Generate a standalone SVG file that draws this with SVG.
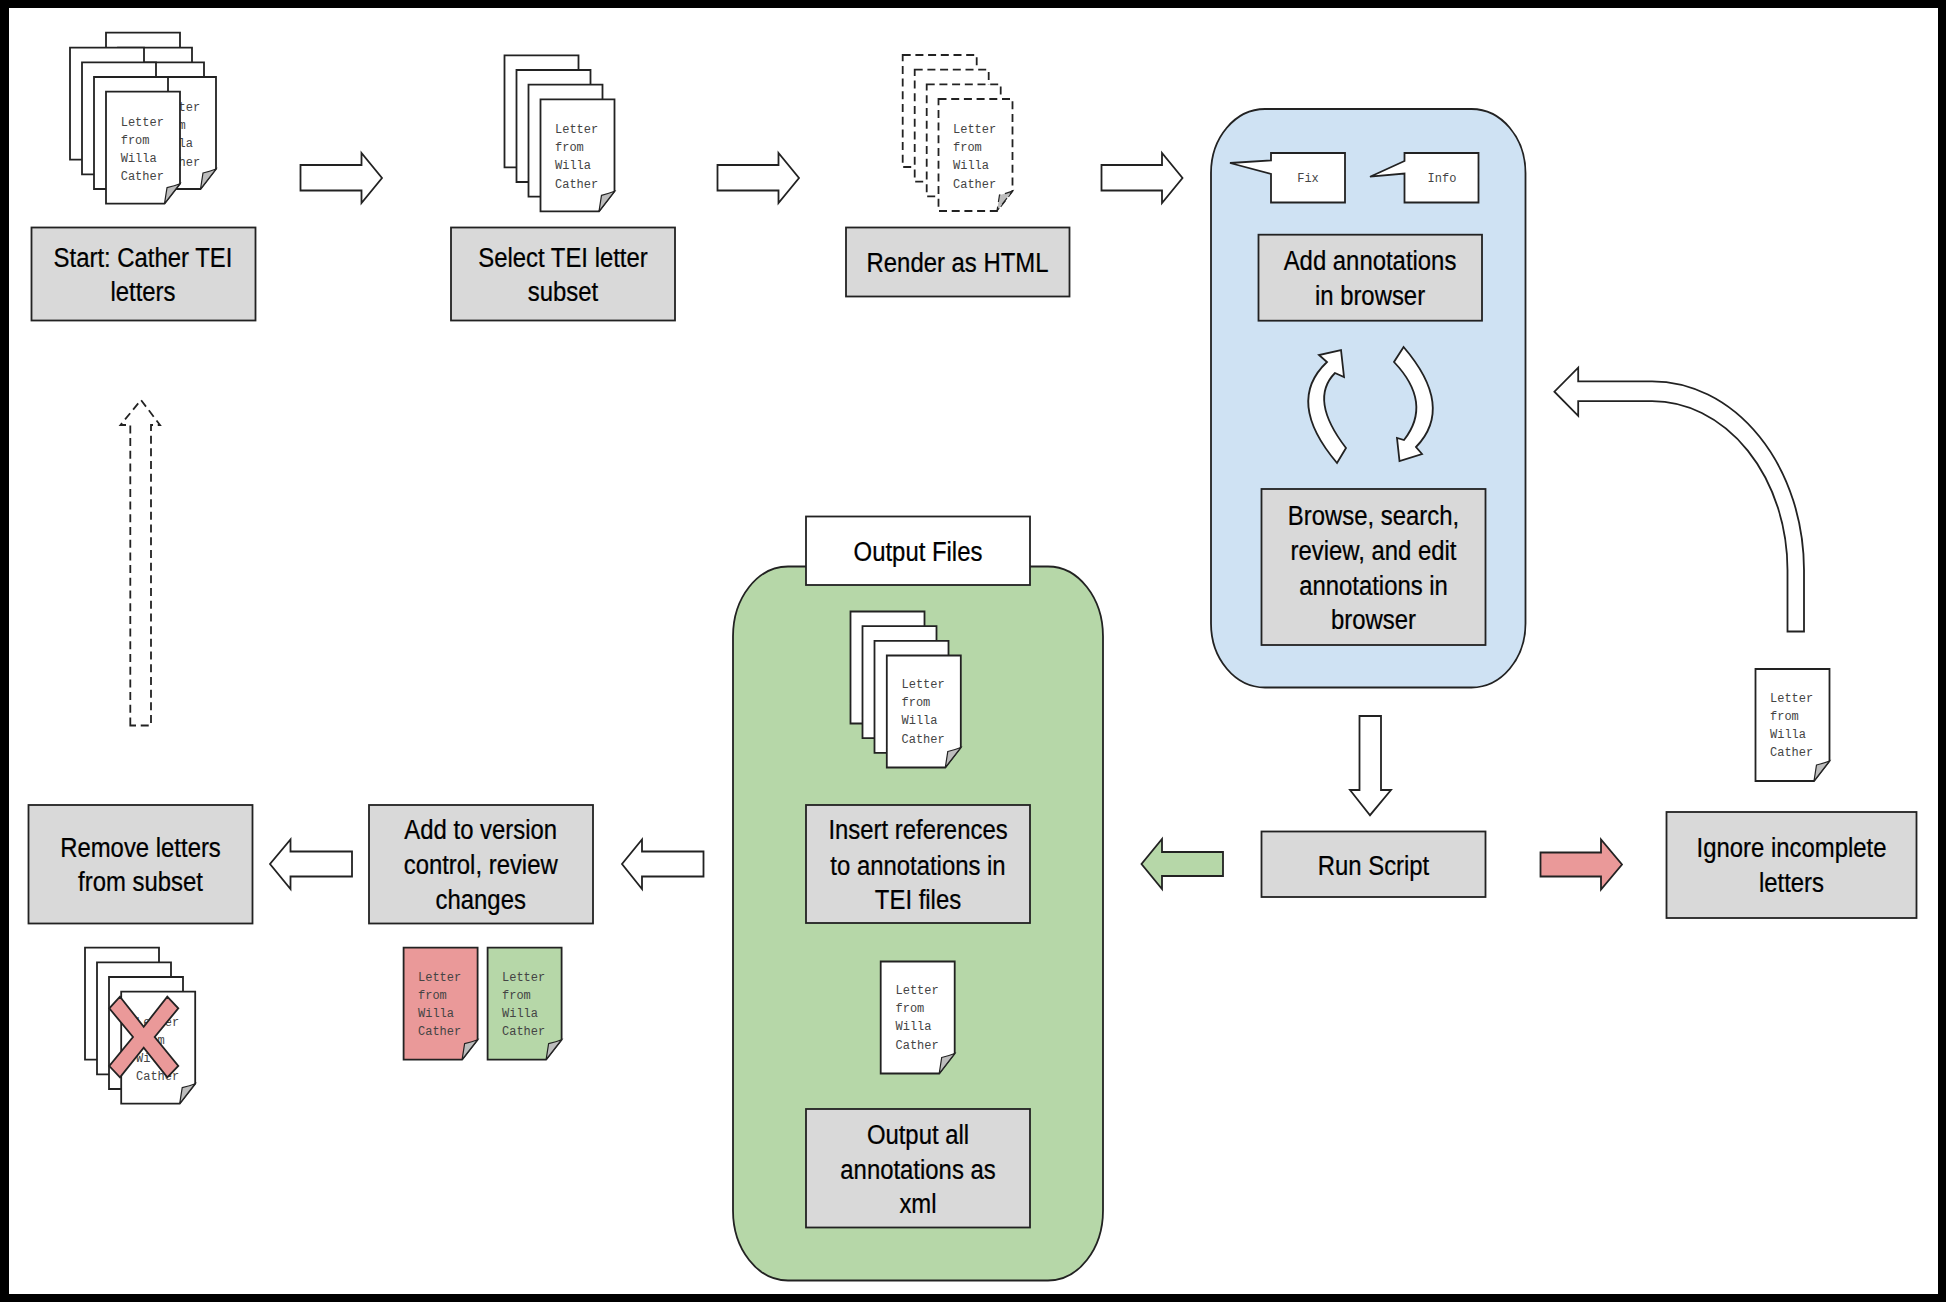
<svg xmlns="http://www.w3.org/2000/svg" width="1946" height="1302" viewBox="0 0 1946 1302">
<style>
.box{fill:#d9d9d9;stroke:#222;stroke-width:1.8}
.wht{fill:#fff;stroke:#222;stroke-width:1.8}
.dash{stroke-dasharray:8 4.7}
.ln{stroke:#222;stroke-width:1.8;stroke-linejoin:miter}
.t{font-family:"Liberation Sans",Arial,sans-serif;font-size:27px;fill:#000;stroke:#000;stroke-width:.25px;text-anchor:middle}
.m{font-family:"Liberation Mono","Courier New",monospace;font-size:12px;fill:#444}
.fold{fill:#bdbdbd;stroke:#222;stroke-width:1.2}
</style>
<defs>
<path id="pg" d="M0 0H74V92L58.5 112H0Z"/>
<path id="fold" d="M74 92C69 94 65 95 61 96L58.5 112Z"/>
</defs>
<rect width="1946" height="1302" fill="#fff"/>
<path id="frame" fill="#000" fill-rule="evenodd" d="M0 0H1946V1302H0ZM9 8V1294H1938V8Z"/>

<g id="panel-blue"><rect x="1211" y="109" width="314.500" height="578.500" rx="54" ry="64" fill="#cfe2f3" stroke="#222" stroke-width="1.800"/></g>
<g id="panel-green"><rect x="733" y="566.500" width="370" height="714" rx="55" ry="70" fill="#b6d7a8" stroke="#222" stroke-width="1.800"/></g>

<g id="connectors">
<path class="wht" d="M300.500 165H361.500V153L382 178L361.500 203V190.500H300.500Z"/>
<path class="wht" d="M717.500 165H778.500V153L799 178L778.500 203V190.500H717.500Z"/>
<path class="wht" d="M1101.500 165H1162V153L1182.500 178L1162 203V190.500H1101.500Z"/>
<path class="wht" d="M1359.500 716H1381V790H1391L1370 815.200L1350 790H1359.500Z"/>
<path class="ln" fill="#ea9999" d="M1540.500 852.500H1601V839.500L1622 864.500L1601 889.500V876.500H1540.500Z"/>
<path class="ln" fill="#b6d7a8" d="M1223 852H1162V839L1141.500 864L1162 889V876H1223Z"/>
<path class="wht" d="M352 851.500H290.500V839.500L270 864L290.500 889V876.500H352Z"/>
<path class="wht" d="M703.500 851.500H642V839.500L622 864L642 889V876.500H703.500Z"/>
<path class="wht dash" d="M130.300 725.500V425H120.500L141 400L160 425H151V725.500Z"/>
<path class="wht" d="M1804 631.500V570A152 189 0 0 0 1652 381.300H1578.200V367.600L1554.400 391.700L1578.200 415.800V401.200H1652A135.500 169 0 0 1 1787.500 570V631.500Z"/>
<path class="wht" d="M1337 463Q1285 401.500 1327 362L1319 355L1341 350L1344 377L1335 373Q1308.700 399.500 1346 448Z"/>
<path class="wht" d="M1403.600 347Q1455 407 1416 447L1422 454L1399.500 461L1397 438L1404 440Q1433 403 1394 362Z"/>
</g>

<g id="stack-start">
<use href="#pg" class="wht" x="106" y="32.700"/><use href="#pg" class="wht" x="118" y="47.700"/><use href="#pg" class="wht" x="130" y="62.300"/><use href="#pg" class="wht" x="142" y="77"/><use href="#fold" class="fold" x="142" y="77"/>
<text class="m" x="157" y="111"><tspan x="157">Letter</tspan><tspan x="157" dy="18.200">from</tspan><tspan x="157" dy="18.200">Willa</tspan><tspan x="157" dy="18.200">Cather</tspan></text>
<use href="#pg" class="wht" x="70" y="47.700"/><use href="#pg" class="wht" x="82" y="62.300"/><use href="#pg" class="wht" x="94" y="77"/><use href="#pg" class="wht" x="106" y="91.700"/><use href="#fold" class="fold" x="106" y="91.700"/>
<text class="m" y="125.700"><tspan x="120.700">Letter</tspan><tspan x="120.700" dy="18.200">from</tspan><tspan x="120.700" dy="18.200">Willa</tspan><tspan x="120.700" dy="18.200">Cather</tspan></text>
</g>
<g id="box-start"><rect class="box" x="31.500" y="227.500" width="224" height="93"/>
<text class="t" transform="translate(143 0) scale(.885 1)" y="267">Start: Cather TEI</text><text class="t" transform="translate(143 0) scale(.885 1)" y="301">letters</text></g>

<g id="stack-select">
<use href="#pg" class="wht" x="504.500" y="55.300"/><use href="#pg" class="wht" x="516.500" y="70"/><use href="#pg" class="wht" x="528.500" y="84.700"/><use href="#pg" class="wht" x="540.500" y="99.300"/><use href="#fold" class="fold" x="540.500" y="99.300"/>
<text class="m" y="133"><tspan x="555">Letter</tspan><tspan x="555" dy="18.200">from</tspan><tspan x="555" dy="18.200">Willa</tspan><tspan x="555" dy="18.200">Cather</tspan></text>
</g>
<g id="box-select"><rect class="box" x="451" y="227.500" width="224" height="93"/>
<text class="t" transform="translate(563 0) scale(.885 1)" y="267">Select TEI letter</text><text class="t" transform="translate(563 0) scale(.885 1)" y="301">subset</text></g>

<g id="stack-html">
<use href="#pg" class="wht dash" x="902.700" y="55"/><use href="#pg" class="wht dash" x="914.700" y="69.700"/><use href="#pg" class="wht dash" x="926.700" y="84.400"/><use href="#pg" class="wht dash" x="938.500" y="99"/><use href="#fold" class="fold dash" x="938.500" y="99"/>
<text class="m" y="133"><tspan x="953">Letter</tspan><tspan x="953" dy="18.200">from</tspan><tspan x="953" dy="18.200">Willa</tspan><tspan x="953" dy="18.200">Cather</tspan></text>
</g>
<g id="box-html"><rect class="box" x="846" y="227.500" width="223.500" height="69"/>
<text class="t" transform="translate(957.500 0) scale(.885 1)" y="272">Render as HTML</text></g>

<g id="callout-fix"><path class="wht" d="M1271 153H1345V202.500H1271V174L1230 163L1271 160.500Z"/>
<text class="m" x="1308" y="182" text-anchor="middle">Fix</text></g>
<g id="callout-info"><path class="wht" d="M1404.500 153H1478.500V202.500H1404.500V173.500L1370 176.700L1404.500 161Z"/>
<text class="m" x="1442" y="182" text-anchor="middle">Info</text></g>
<g id="box-add"><rect class="box" x="1258.500" y="234.700" width="223.500" height="86"/>
<text class="t" transform="translate(1370 0) scale(.885 1)" y="270">Add annotations</text><text class="t" transform="translate(1370 0) scale(.885 1)" y="304.700">in browser</text></g>
<g id="box-browse"><rect class="box" x="1261.500" y="489" width="224" height="156"/>
<text class="t" transform="translate(1373.500 0) scale(.885 1)" y="525">Browse, search,</text><text class="t" transform="translate(1373.500 0) scale(.885 1)" y="560">review, and edit</text><text class="t" transform="translate(1373.500 0) scale(.885 1)" y="595">annotations in</text><text class="t" transform="translate(1373.500 0) scale(.885 1)" y="629">browser</text></g>
<g id="box-run"><rect class="box" x="1261.500" y="831.500" width="224" height="65.500"/>
<text class="t" transform="translate(1373.500 0) scale(.885 1)" y="875">Run Script</text></g>

<g id="letter-ignore"><use href="#pg" class="wht" x="1755.500" y="669"/><use href="#fold" class="fold" x="1755.500" y="669"/>
<text class="m" y="701.500"><tspan x="1770">Letter</tspan><tspan x="1770" dy="18.200">from</tspan><tspan x="1770" dy="18.200">Willa</tspan><tspan x="1770" dy="18.200">Cather</tspan></text></g>
<g id="box-ignore"><rect class="box" x="1666.500" y="812" width="250" height="106"/>
<text class="t" transform="translate(1791.500 0) scale(.885 1)" y="857.500">Ignore incomplete</text><text class="t" transform="translate(1791.500 0) scale(.885 1)" y="892.500">letters</text></g>

<g id="box-output-files"><rect class="wht" x="806" y="516.500" width="224" height="68.500"/>
<text class="t" transform="translate(918 0) scale(.885 1)" y="561">Output Files</text></g>
<g id="stack-output">
<use href="#pg" class="wht" x="850.500" y="611.500"/><use href="#pg" class="wht" x="862.500" y="626.200"/><use href="#pg" class="wht" x="874.500" y="640.900"/><use href="#pg" class="wht" x="886.800" y="655.500"/><use href="#fold" class="fold" x="886.800" y="655.500"/>
<text class="m" y="688"><tspan x="901.500">Letter</tspan><tspan x="901.500" dy="18.200">from</tspan><tspan x="901.500" dy="18.200">Willa</tspan><tspan x="901.500" dy="18.200">Cather</tspan></text>
</g>
<g id="box-insert"><rect class="box" x="806" y="805" width="224" height="118"/>
<text class="t" transform="translate(918 0) scale(.885 1)" y="839.500">Insert references</text><text class="t" transform="translate(918 0) scale(.885 1)" y="874.700">to annotations in</text><text class="t" transform="translate(918 0) scale(.885 1)" y="909.500">TEI files</text></g>
<g id="letter-xml"><use href="#pg" class="wht" x="880.700" y="961.500"/><use href="#fold" class="fold" x="880.700" y="961.500"/>
<text class="m" y="994"><tspan x="895.500">Letter</tspan><tspan x="895.500" dy="18.200">from</tspan><tspan x="895.500" dy="18.200">Willa</tspan><tspan x="895.500" dy="18.200">Cather</tspan></text></g>
<g id="box-xml"><rect class="box" x="806" y="1109" width="224" height="118.500"/>
<text class="t" transform="translate(918 0) scale(.885 1)" y="1144">Output all</text><text class="t" transform="translate(918 0) scale(.885 1)" y="1179">annotations as</text><text class="t" transform="translate(918 0) scale(.885 1)" y="1213.500">xml</text></g>

<g id="box-version"><rect class="box" x="369" y="805" width="224" height="118.500"/>
<text class="t" transform="translate(480.700 0) scale(.885 1)" y="839">Add to version</text><text class="t" transform="translate(480.700 0) scale(.885 1)" y="874">control, review</text><text class="t" transform="translate(480.700 0) scale(.885 1)" y="909">changes</text></g>
<g id="letter-red"><use href="#pg" fill="#ea9999" stroke="#222" stroke-width="1.800" x="403.600" y="947.700"/><use href="#fold" class="fold" x="403.600" y="947.700"/>
<text class="m" y="980.700"><tspan x="418">Letter</tspan><tspan x="418" dy="18.200">from</tspan><tspan x="418" dy="18.200">Willa</tspan><tspan x="418" dy="18.200">Cather</tspan></text></g>
<g id="letter-green"><use href="#pg" fill="#b6d7a8" stroke="#222" stroke-width="1.800" x="487.600" y="947.700"/><use href="#fold" class="fold" x="487.600" y="947.700"/>
<text class="m" y="980.700"><tspan x="502">Letter</tspan><tspan x="502" dy="18.200">from</tspan><tspan x="502" dy="18.200">Willa</tspan><tspan x="502" dy="18.200">Cather</tspan></text></g>

<g id="box-remove"><rect class="box" x="28.500" y="805" width="224" height="118.500"/>
<text class="t" transform="translate(140.500 0) scale(.885 1)" y="857">Remove letters</text><text class="t" transform="translate(140.500 0) scale(.885 1)" y="891.200">from subset</text></g>
<g id="stack-remove">
<use href="#pg" class="wht" x="85" y="947.700"/><use href="#pg" class="wht" x="97" y="962.400"/><use href="#pg" class="wht" x="109" y="977"/><use href="#pg" class="wht" x="121.200" y="991.700"/><use href="#fold" class="fold" x="121.200" y="991.700"/>
<text class="m" y="1025.700"><tspan x="136">Letter</tspan><tspan x="136" dy="18.200">from</tspan><tspan x="136" dy="18.200">Willa</tspan><tspan x="136" dy="18.200">Cather</tspan></text>
<path class="ln" fill="#ea9999" d="M120 996.700L143.700 1026.700L167.300 996.700L178.300 1008.300L154.700 1037L178.300 1066L167.300 1077.300L143.700 1047.700L120 1077.300L109.300 1066L133 1037L109.300 1008.300Z"/>
</g>
</svg>
